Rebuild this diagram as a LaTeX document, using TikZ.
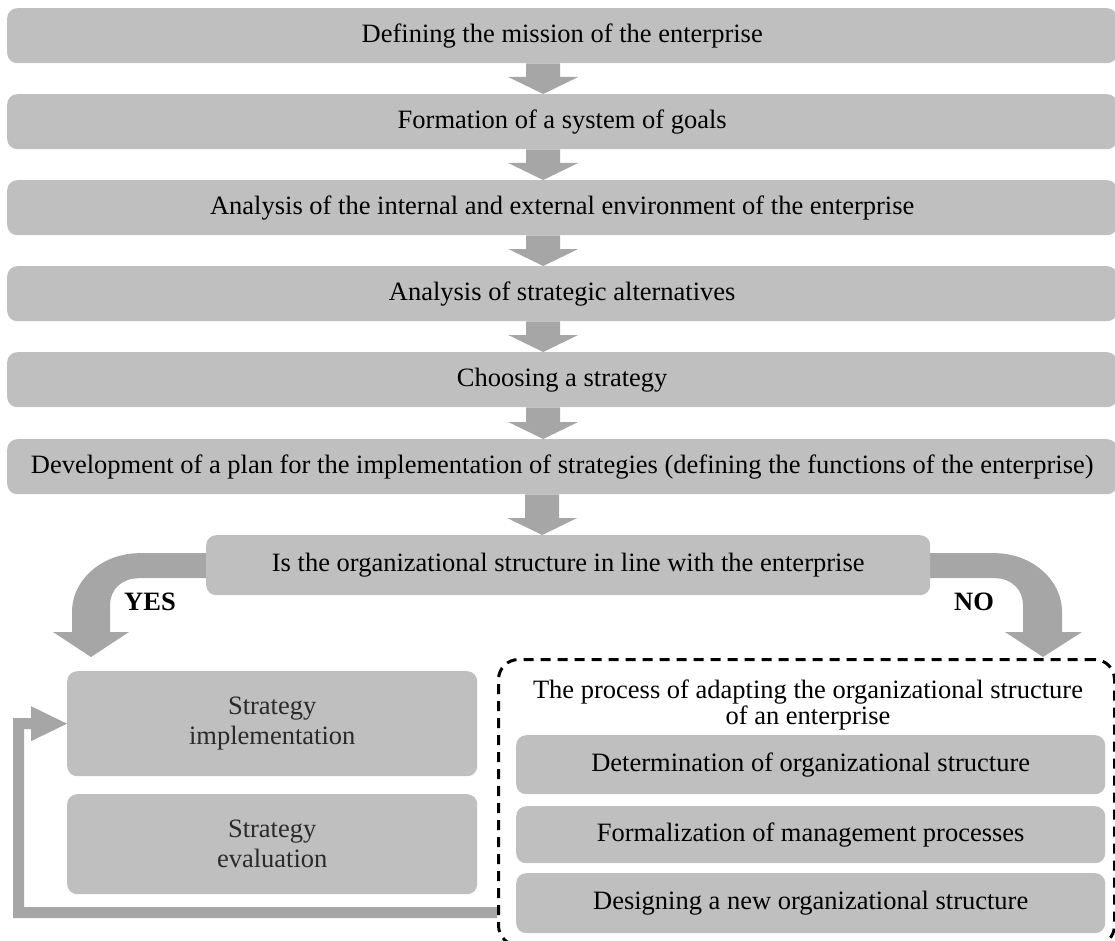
\documentclass[tikz,border=0pt]{standalone}
\usepackage{fontspec}
\setmainfont{Liberation Serif}
\usetikzlibrary{calc,backgrounds}
\definecolor{boxgray}{HTML}{BFBFBF}
\definecolor{arrgray}{HTML}{A6A6A6}
\definecolor{softblack}{HTML}{2A2A2A}
\newcommand\dnarrow[3]{%
  \fill[arrgray] let \p1=([xshift=#3]#1.south), \p2=(#2.north) in
    (\x1-17pt,\y1) -- (\x1+17pt,\y1) -- (\x1+17pt,\y2+17pt)
      -- (\x1+35pt,\y2+17pt) -- (\x1,\y2) -- (\x1-35pt,\y2+17pt)
      -- (\x1-17pt,\y2+17pt) -- cycle;}
\begin{document}
\begin{tikzpicture}[x=1pt,y=-1pt,
  every node/.style={font=\fontsize{26.5}{30}\selectfont, text=black, inner sep=0pt, align=center},
  graybox/.style={fill=boxgray, rounded corners=10pt, anchor=north west},
  topbox/.style={graybox, minimum width=1110pt, minimum height=55pt},
  subbox/.style={graybox, minimum width=589pt},
  sidebox/.style={graybox, minimum width=410pt, text=softblack},
  dashbox/.style={draw=black, line width=3pt, dash pattern=on 10pt off 7pt, rounded corners=20pt, anchor=north west},
  lbl/.style={font=\fontsize{26.5}{30}\selectfont\bfseries}]
\useasboundingbox (0,0) rectangle (1115,941);

\node[topbox] (b1) at (7,8)   {Defining the mission of the enterprise};
\node[topbox] (b2) at (7,94)  {Formation of a system of goals};
\node[topbox] (b3) at (7,180) {Analysis of the internal and external environment of the enterprise};
\node[topbox] (b4) at (7,266) {Analysis of strategic alternatives};
\node[topbox] (b5) at (7,352) {Choosing a strategy};
\node[topbox] (b6) at (7,439) {Development of a plan for the implementation of strategies (defining the functions of the enterprise)};

\node[graybox, minimum width=724pt, minimum height=60pt] (dec) at (206,535) {Is the organizational structure in line with the enterprise};

\node[lbl] (yes) at (150,602) {YES};
\node[lbl] (no) at (974,602) {NO};

\node[sidebox, minimum height=105pt] (impl) at (67,671) {Strategy\\implementation};
\node[sidebox, minimum height=100pt] (eval) at (67,794) {Strategy\\evaluation};

\node[dashbox, minimum width=616pt, minimum height=286pt] (adapt) at (497,658) {};
\node[font=\fontsize{26.5}{26}\selectfont] (adtitle) at (808,705) {The process of adapting the organizational structure\\of an enterprise};
\node[subbox, minimum height=59pt] (s1) at (516,735) {Determination of organizational structure};
\node[subbox, minimum height=57pt] (s2) at (516,806) {Formalization of management processes};
\node[subbox, minimum height=60pt] (s3) at (516,873) {Designing a new organizational structure};

\coordinate (yesend) at (91,657);
\coordinate (noend) at (1043,657);
\coordinate (fb) at (497,912.5);

\begin{scope}[on background layer]
  \dnarrow{b1}{b2}{-19pt}
  \dnarrow{b2}{b3}{-19pt}
  \dnarrow{b3}{b4}{-19pt}
  \dnarrow{b4}{b5}{-19pt}
  \dnarrow{b5}{b6}{-19pt}
  \dnarrow{b6}{dec}{-20pt}
  % YES curved arrow
  \fill[arrgray] let \p1=(dec.west), \p2=(yesend) in
    (\x1+10pt,\y1+12pt) -- (\x2+48pt,\y1+12pt)
      .. controls (\x2+13pt,\y1+12pt) and (\x2-19pt,\y1-13pt) .. (\x2-19pt,\y1-47pt)
      -- (\x2-19pt,\y2+25pt) -- (\x2-38pt,\y2+25pt) -- (\x2,\y2)
      -- (\x2+38pt,\y2+25pt) -- (\x2+19pt,\y2+25pt) -- (\x2+19pt,\y1-40pt)
      .. controls (\x2+19pt,\y1-25pt) and (\x2+30pt,\y1-13pt) .. (\x2+48pt,\y1-13pt)
      -- (\x1+10pt,\y1-13pt) -- cycle;
  % NO curved arrow
  \fill[arrgray] let \p1=(dec.east), \p2=(noend) in
    (\x1-10pt,\y1+12pt) -- (\x2-48pt,\y1+12pt)
      .. controls (\x2-13pt,\y1+12pt) and (\x2+19pt,\y1-13pt) .. (\x2+19pt,\y1-47pt)
      -- (\x2+19pt,\y2+25pt) -- (\x2+39pt,\y2+25pt) -- (\x2,\y2)
      -- (\x2-38pt,\y2+25pt) -- (\x2-20pt,\y2+25pt) -- (\x2-20pt,\y1-40pt)
      .. controls (\x2-20pt,\y1-25pt) and (\x2-31pt,\y1-13pt) .. (\x2-48pt,\y1-13pt)
      -- (\x1-10pt,\y1-13pt) -- cycle;
  % feedback arrow
  \fill[arrgray] let \p1=(impl.west), \p2=(fb) in
    (\x2,\y2+5.5pt) -- (\x1-43pt,\y2+5.5pt) -- (\x1-43pt,\y1-5.5pt)
      -- (\x1-36pt,\y1-5.5pt) -- (\x1-36pt,\y1-17.5pt) -- (\x1,\y1)
      -- (\x1-36pt,\y1+17.5pt) -- (\x1-36pt,\y1+5.5pt) -- (\x1-54pt,\y1+5.5pt)
      -- (\x1-54pt,\y2-5.5pt) -- (\x2,\y2-5.5pt) -- cycle;
\end{scope}
\end{tikzpicture}
\end{document}
